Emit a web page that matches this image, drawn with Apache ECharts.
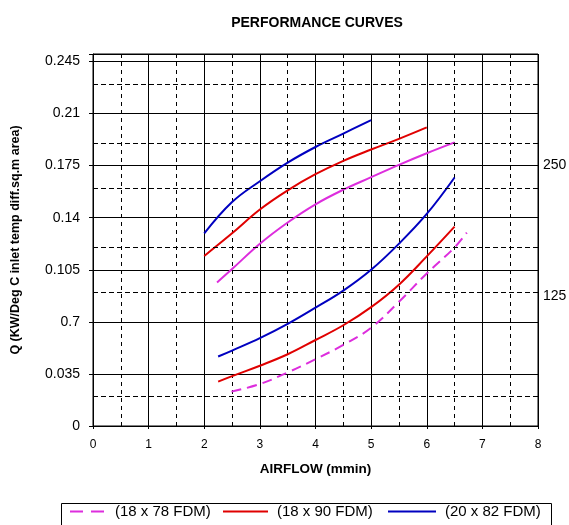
<!DOCTYPE html>
<html>
<head>
<meta charset="utf-8">
<script src="https://cdn.jsdelivr.net/npm/echarts@6/dist/echarts.min.js"></script>
<style>
  html, body { margin: 0; padding: 0; background: #fff; }
  #chart { width: 569px; height: 525px; }
</style>
</head>
<body>
<div id="chart"></div>
<script>
// tick labels as printed on the chart
const yTickLabels = ['0', '0.035', '0.7', '0.105', '0.14', '0.175', '0.21', '0.245'];
const xTickLabels = ['0', '1', '2', '3', '4', '5', '6', '7', '8'];
// dashed horizontal grid levels (there is none between 0.035 and 0.07)
const dashedLevels = [0.0175, 0.0875, 0.1225, 0.1575, 0.1925, 0.2275];
// fan speed marks on the right
const rightMarkValues = [0.0875, 0.175];
const rightMarkLabels = ['125', '250'];

const seriesNames = ['(18 x 78 FDM)', '(18 x 90 FDM)', '(20 x 82 FDM)'];

// upper curves (250)
const mag250 = [[2.23, 0.0965], [2.5, 0.1055], [3, 0.1225], [3.5, 0.1368], [4, 0.1490], [4.5, 0.1588], [5, 0.1672], [5.5, 0.1755], [6, 0.1833], [6.5, 0.1906]];
const red250 = [[2, 0.1143], [2.5, 0.1295], [3, 0.1455], [3.5, 0.1584], [4, 0.1692], [4.5, 0.1782], [5, 0.1858], [5.5, 0.1930], [6, 0.2007]];
const blue250 = [[2, 0.1294], [2.5, 0.1505], [3, 0.1645], [3.5, 0.177], [4, 0.1875], [4.5, 0.1965], [5, 0.2056]];
// lower curves (125)
const mag125 = [[2.49, 0.0231], [3, 0.0282], [3.5, 0.0360], [4, 0.0449], [4.5, 0.0545], [5, 0.0660], [5.5, 0.0835], [6, 0.1025], [6.5, 0.12], [6.72, 0.13]];
const red125 = [[2.25, 0.0298], [2.5, 0.0335], [3, 0.0405], [3.5, 0.0482], [4, 0.0578], [4.5, 0.0677], [5, 0.0799], [5.5, 0.0950], [6, 0.1140], [6.5, 0.134]];
const blue125 = [[2.25, 0.0467], [2.5, 0.0507], [3, 0.059], [3.5, 0.0686], [4, 0.0795], [4.5, 0.0910], [5, 0.105], [5.5, 0.1225], [6, 0.1425], [6.5, 0.167]];

const MAGENTA = '#dd2ddd';
const RED = '#e00000';
const BLUE = '#0000c0';

function curve(name, data, color, dashed) {
  return {
    name: name,
    type: 'line',
    data: data,
    smooth: 0.4,
    symbol: 'none',
    color: color,
    z: 3,
    lineStyle: { color: color, width: 2, type: dashed ? [10, 6] : 'solid' },
    yAxisIndex: 0
  };
}

function legendAt(left, name, width, lineType) {
  return {
    data: [{ name: name, lineStyle: lineType ? { type: lineType } : undefined }],
    left: left,
    top: 504,
    padding: 0,
    itemWidth: width,
    itemHeight: 14,
    itemGap: 0,
    itemStyle: { opacity: 0 },
    textStyle: { fontSize: 15, color: '#000', padding: [0, 0, 0, 4] },
    selectedMode: false
  };
}

const myChart = echarts.init(document.getElementById('chart'));
myChart.setOption({
  animation: false,
  textStyle: { fontFamily: 'Liberation Sans, Arial, sans-serif' },
  title: {
    text: 'PERFORMANCE CURVES',
    left: 312,
    textAlign: 'center',
    top: 11,
    textStyle: { fontSize: 14, fontWeight: 'bold', color: '#000' }
  },
  legend: [
    legendAt(69, seriesNames[0], 36, [13, 8]),
    legendAt(222, seriesNames[1], 45),
    legendAt(387, seriesNames[2], 48)
  ],
  graphic: [{
    type: 'rect',
    left: 59, top: 501,
    shape: { width: 490, height: 23 },
    style: { fill: 'none', stroke: '#000', lineWidth: 1 },
    silent: true
  }],
  grid: {
    left: 93, right: 31, top: 54, bottom: 99,
    outerBoundsMode: 'none',
    show: true, borderColor: '#000', borderWidth: 1
  },
  xAxis: {
    type: 'value',
    min: 0, max: 8, interval: 1,
    name: 'AIRFLOW (mmin)',
    nameLocation: 'middle',
    nameGap: 36,
    nameTextStyle: { fontSize: 13.5, fontWeight: 'bold', color: '#000' },
    axisLine: { lineStyle: { color: '#000' } },
    axisTick: { show: true, length: 3, lineStyle: { color: '#000' } },
    axisLabel: { color: '#000', fontSize: 12, margin: 13, formatter: v => xTickLabels[Math.round(v)] },
    splitLine: { show: true, lineStyle: { color: '#000', width: 1 } },
    minorTick: { show: false, splitNumber: 2 },
    minorSplitLine: { show: true, lineStyle: { color: '#000', type: [4, 4], width: 1 } }
  },
  yAxis: [{
    type: 'value',
    min: 0, max: 0.25, interval: 0.035,
    name: 'Q (KW/Deg C inlet temp diff.sq.m area)',
    nameLocation: 'middle',
    nameGap: 71,
    nameTextStyle: { fontSize: 12.5, fontWeight: 'bold', color: '#000' },
    axisLine: { show: true, lineStyle: { color: '#000' } },
    axisTick: { show: true, length: 4, lineStyle: { color: '#000' } },
    axisLabel: {
      color: '#000', fontSize: 14, margin: 13,
      formatter: v => {
        const i = Math.round(v / 0.035);
        return Math.abs(i * 0.035 - v) < 1e-6 ? yTickLabels[i] : '';
      }
    },
    splitLine: { show: true, lineStyle: { color: '#000', width: 1 } }
  }, {
    type: 'value',
    position: 'right',
    min: 0, max: 0.25, interval: 0.0175,
    axisLine: { show: false },
    axisTick: { show: false },
    splitLine: { show: false },
    axisLabel: {
      color: '#000', fontSize: 14, margin: 5,
      formatter: v => {
        const i = rightMarkValues.findIndex(m => Math.abs(m - v) < 1e-6);
        return i >= 0 ? rightMarkLabels[i] : '';
      }
    }
  }],
  series: [
    // dashed horizontal grid lines
    {
      type: 'line',
      data: [],
      z: 1,
      silent: true,
      markLine: {
        silent: true,
        symbol: 'none',
        label: { show: false },
        lineStyle: { color: '#000', type: [5, 3], width: 1 },
        data: dashedLevels.map(v => ({ yAxis: v }))
      }
    },
    curve(seriesNames[0], mag125, MAGENTA, true),
    curve(seriesNames[0], mag250, MAGENTA, false),
    curve(seriesNames[1], red250, RED, false),
    curve(seriesNames[1], red125, RED, false),
    curve(seriesNames[2], blue250, BLUE, false),
    curve(seriesNames[2], blue125, BLUE, false)
  ]
});
</script>
</body>
</html>
